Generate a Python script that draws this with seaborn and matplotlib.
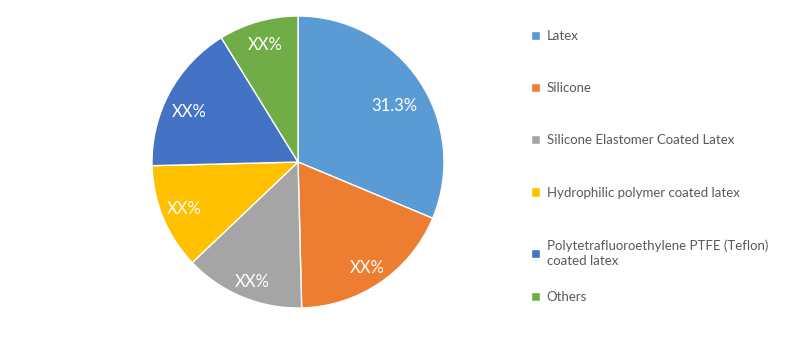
import matplotlib
matplotlib.use("Agg")
import matplotlib.pyplot as plt
import numpy as np
import seaborn as sns

categories = ["Latex", "Silicone", "Silicone Elastomer Coated Latex",
              "Hydrophilic polymer coated latex",
              "Polytetrafluoroethylene PTFE (Teflon)\ncoated latex", "Others"]
shares = [31.3, 18.3, 13.3, 11.7, 16.6, 8.8]
slice_labels = ["31.3%", "XX%", "XX%", "XX%", "XX%", "XX%"]
colors = ["#5B9BD5", "#ED7D31", "#A5A5A5", "#FFC000", "#4472C4", "#70AD47"]

sns.set_theme(style="white")
plt.rcParams["font.family"] = ["Lato", "DejaVu Sans"]

fig = plt.figure(figsize=(8, 3.53), dpi=100)
fig.patch.set_facecolor("white")
ax = fig.add_axes([152 / 800, 45 / 353, 292 / 800, 292 / 353])
wedges, texts = ax.pie(shares, colors=colors, startangle=90, counterclock=False,
                       labels=slice_labels, labeldistance=0.83,
                       wedgeprops=dict(edgecolor="white", linewidth=1.0),
                       textprops=dict(color="white", fontsize=12))
# per-slice label placement (distance from centre, angular nudge in degrees)
label_dist = [0.76, 0.87, 0.88, 0.84, 0.82, 0.83]
label_nudge = [-3.5, -1.2, 1.8, 0.0, 4.0, 0.0]
for w, t, d, n in zip(wedges, texts, label_dist, label_nudge):
    ang = np.deg2rad((w.theta1 + w.theta2) / 2 + n)
    t.set_position((d * np.cos(ang), d * np.sin(ang)))
    t.set_ha("center")
    t.set_va("center")
ax.set_xlim(-1.0, 1.0)
ax.set_ylim(-1.0, 1.0)
ax.set_aspect("equal")
ax.axis("off")

common = dict(loc="upper left", frameon=False, fontsize=9.5, handlelength=0.7,
              handleheight=0.7, handletextpad=0.5, borderaxespad=0, borderpad=0)
leg1 = fig.legend(wedges[:5], categories[:5],
                  bbox_to_anchor=(531 / 800, 1 - 30 / 353),
                  labelspacing=3.05, **common)
leg2 = fig.legend(wedges[5:], categories[5:],
                  bbox_to_anchor=(531 / 800, 1 - 291 / 353),
                  labelspacing=3.05, **common)
for leg in (leg1, leg2):
    for t in leg.get_texts():
        t.set_color("#595959")
leg1.get_texts()[4].set_linespacing(1.35)

fig.savefig("out.png", dpi=100, facecolor="white")
